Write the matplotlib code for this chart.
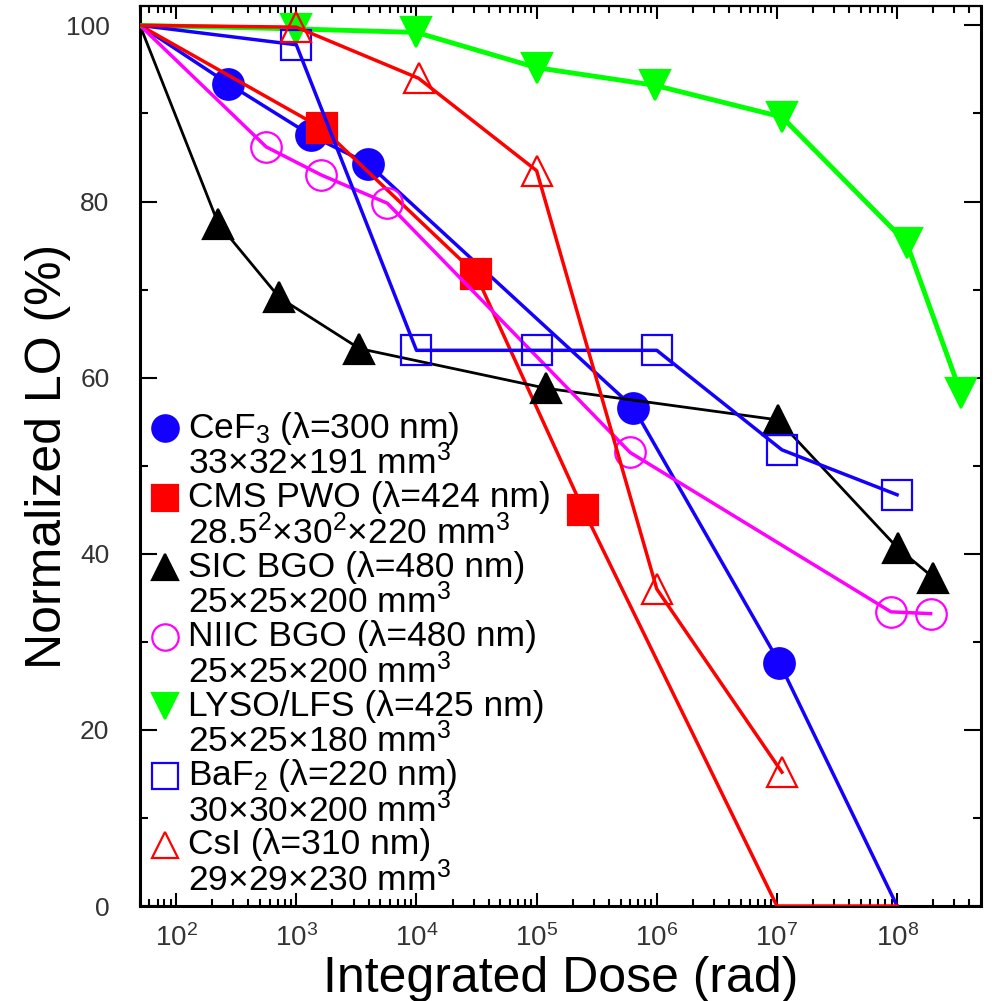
import matplotlib
matplotlib.use('Agg')
import matplotlib.pyplot as plt
from matplotlib.ticker import LogLocator, MultipleLocator, NullFormatter

plt.rcParams['font.family'] = ['Liberation Sans', 'DejaVu Sans']
plt.rcParams['mathtext.fontset'] = 'custom'
plt.rcParams['mathtext.rm'] = 'Liberation Sans'
plt.rcParams['mathtext.it'] = 'Liberation Sans:italic'
plt.rcParams['mathtext.bf'] = 'Liberation Sans:bold'

# dose (rad) and normalized light output (%)
cef3_x = [50, 270, 1330, 3950, 6.4e5, 1.05e7, 1.0e8]
cef3_y = [100, 93.4, 87.5, 84.3, 56.6, 27.6, 0]

pwo_x = [50, 1650, 3.1e4, 2.45e5, 1.0e7, 1.0e8]
pwo_y = [100, 88.3, 71.8, 45.0, 0, 0]

sic_x = [50, 224, 722, 3350, 1.19e5, 1.02e7, 1.02e8, 2.0e8]
sic_y = [100, 77.5, 69.1, 63.3, 58.8, 55.2, 40.6, 37.3]

niic_x = [50, 562, 1620, 5730, 6.0e5, 8.9e7, 1.9e8]
niic_y = [100, 86.2, 83.0, 79.8, 51.5, 33.4, 33.2]

lyso_x = [50, 1e3, 1e4, 1e5, 9.6e5, 1.1e7, 1.2e8, 3.4e8]
lyso_y = [100, 99.6, 99.2, 95.2, 93.2, 89.6, 75.3, 58.2]

baf2_x = [50, 1e3, 1e4, 1e5, 1e6, 1.1e7, 1.0e8]
baf2_y = [100, 97.8, 63.1, 63.1, 63.1, 51.8, 46.7]

csi_x = [50, 1e3, 1.04e4, 1e5, 1e6, 1.1e7]
csi_y = [100, 99.8, 94.0, 83.5, 36.0, 15.2]

xticks = [1e2, 1e3, 1e4, 1e5, 1e6, 1e7, 1e8]

labels1 = ['CeF$_3$ (λ=300 nm)', 'CMS PWO (λ=424 nm)', 'SIC BGO (λ=480 nm)',
           'NIIC BGO (λ=480 nm)', 'LYSO/LFS (λ=425 nm)', 'BaF$_2$ (λ=220 nm)',
           'CsI (λ=310 nm)']
labels2 = ['33×32×191 mm$^3$', '28.5$^2$×30$^2$×220 mm$^3$', '25×25×200 mm$^3$',
           '25×25×200 mm$^3$', '25×25×180 mm$^3$', '30×30×200 mm$^3$',
           '29×29×230 mm$^3$']

fig = plt.figure(figsize=(9.92, 10.01), dpi=100)
ax = fig.add_axes([0.1411, 0.0949, 0.8479, 0.8991])

blue = '#1400ff'
red = '#ff0000'
green = '#00ff00'
magenta = '#ff00ff'

ms = 22
series = [
    (cef3_x, cef3_y, blue, 'o', True, 2.5, [1, 2, 3, 4, 5]),
    (pwo_x, pwo_y, red, 's', True, 2.5, [1, 2, 3]),
    (sic_x, sic_y, 'black', '^', True, 2.0, list(range(1, 8))),
    (niic_x, niic_y, magenta, 'o', False, 2.5, list(range(1, 7))),
    (lyso_x, lyso_y, green, 'v', True, 3.5, list(range(1, 8))),
    (baf2_x, baf2_y, blue, 's', False, 2.5, list(range(1, 7))),
    (csi_x, csi_y, red, '^', False, 2.5, list(range(1, 6))),
]
for x, y, c, m, filled, lw, mk in series:
    ax.plot(x, y, color=c, lw=lw, marker=m, markersize=ms, markevery=mk,
            markerfacecolor=c if filled else 'none', markeredgecolor=c,
            markeredgewidth=1.6, zorder=3)

ax.set_xscale('log')
ax.set_xlim(50, 5e8)
ax.set_ylim(0, 102.2)
ax.set_xticks(xticks)
ax.xaxis.set_minor_locator(LogLocator(base=10, subs=range(2, 10), numticks=100))
ax.xaxis.set_minor_formatter(NullFormatter())
ax.yaxis.set_major_locator(MultipleLocator(20))
ax.yaxis.set_minor_locator(MultipleLocator(10))

ax.tick_params(which='both', direction='in', top=True, right=True, width=1.5, colors='black')
ax.tick_params(axis='x', which='major', length=9.5, pad=13, labelsize=20, labelcolor='#333333')
ax.tick_params(axis='x', which='minor', length=5)
ax.tick_params(axis='y', which='major', length=12, pad=22, labelsize=19, labelcolor='#333333')
ax.tick_params(axis='y', which='minor', length=6)
for s in ax.spines.values():
    s.set_linewidth(2.2)
ax.spines['top'].set_linewidth(1.6)

ax.set_xlabel('Integrated Dose (rad)', fontsize=36, labelpad=3)
ax.set_ylabel('Normalized LO (%)', fontsize=36, labelpad=-4)

# legend drawn by hand: marker next to first line, dimensions below
leg_mx = 0.0297
leg_tx = 0.0571
leg_top = 0.531
leg_step = 0.0772
line_gap = 0.0385
leg_ms = 19
for i, (x, y, c, m, filled, lw, mk) in enumerate(series):
    yy = leg_top - i * leg_step
    ax.plot([leg_mx], [yy], transform=ax.transAxes, marker=m, markersize=leg_ms,
            color=c, markerfacecolor=c if filled else 'none', markeredgewidth=1.6,
            linestyle='none', clip_on=False, zorder=4)
    ax.text(leg_tx, yy, labels1[i], transform=ax.transAxes, fontsize=25.5,
            va='center', ha='left', zorder=4)
    ax.text(leg_tx, yy - line_gap, labels2[i], transform=ax.transAxes, fontsize=25.5,
            va='center', ha='left', zorder=4)

fig.savefig('out.png', dpi=100)
